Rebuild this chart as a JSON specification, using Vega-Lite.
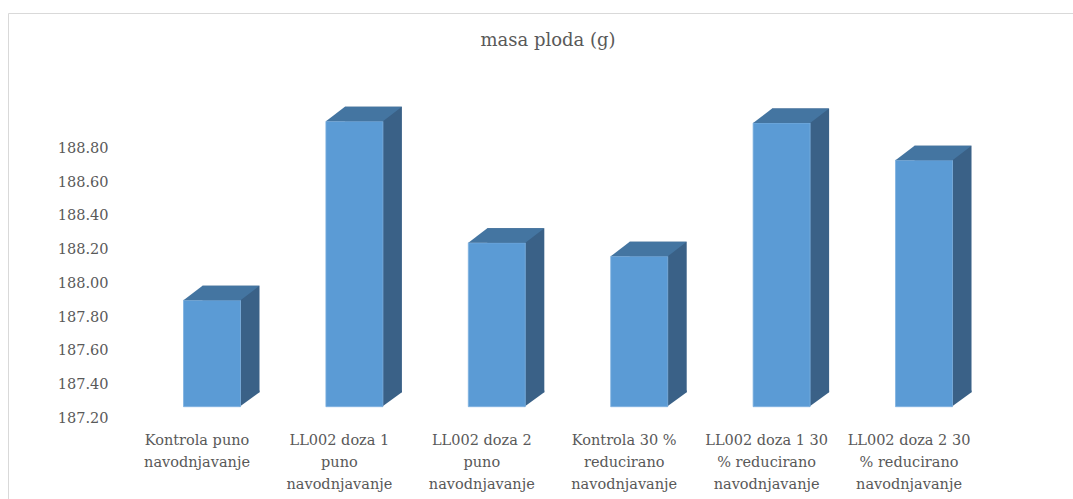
{
  "$schema": "https://vega.github.io/schema/vega-lite/v6.json",
  "width": 1080,
  "height": 500,
  "autosize": {"type": "none"},
  "padding": {"left": 8, "top": 13, "right": -15, "bottom": -14},
  "background": "white",
  "config": {"view": {"stroke": "#d9d9d9", "strokeWidth": 1}},
  "title": {
    "text": "masa ploda (g)",
    "font": "DejaVu Serif",
    "fontSize": 18,
    "fontWeight": "normal",
    "color": "#595959",
    "anchor": "middle",
    "frame": "group",
    "baseline": "alphabetic",
    "offset": -51
  },
  "data": {
    "values": [
      {"tretman": "Kontrola puno\nnavodnjavanje", "masa": 187.90},
      {"tretman": "LL002 doza 1\npuno\nnavodnjavanje", "masa": 188.96},
      {"tretman": "LL002 doza 2\npuno\nnavodnjavanje", "masa": 188.24},
      {"tretman": "Kontrola 30 %\nreducirano\nnavodnjavanje", "masa": 188.16},
      {"tretman": "LL002 doza 1 30\n% reducirano\nnavodnjavanje", "masa": 188.95},
      {"tretman": "LL002 doza 2 30\n% reducirano\nnavodnjavanje", "masa": 188.73}
    ]
  },
  "encoding": {
    "x": {
      "field": "tretman",
      "type": "nominal",
      "sort": null,
      "title": null,
      "scale": {"paddingInner": 0, "paddingOuter": 0.7921, "align": 0.5887},
      "axis": {
        "domain": false,
        "ticks": false,
        "tickSize": 0,
        "labelPadding": -80,
        "labelOffset": -15,
        "labelAngle": 0,
        "labelFont": "DejaVu Serif",
        "labelFontSize": 14.5,
        "labelColor": "#595959",
        "labelLineHeight": 22,
        "labelAlign": "center",
        "labelBaseline": "top",
        "labelOverlap": false,
        "labelBound": false,
        "labelLimit": 300,
        "labelExpr": "split(datum.label, '\\n')"
      }
    }
  },
  "layer": [
    {
      "mark": {"type": "bar", "color": "#3a6187", "width": 57, "xOffset": 19, "yOffset": -14.5, "y2Offset": -14.5, "opacity": 1},
      "encoding": {
        "y": {
          "field": "masa",
          "type": "quantitative",
          "title": null,
          "scale": {"domain": [186.639, 189.602], "nice": false, "zero": false},
          "axis": {
            "values": [187.2, 187.4, 187.6, 187.8, 188.0, 188.2, 188.4, 188.6, 188.8],
            "format": ".2f",
            "domain": false,
            "ticks": false,
            "tickSize": 0,
            "grid": false,
            "labelPadding": -100,
            "labelFont": "DejaVu Serif",
            "labelFontSize": 14.5,
            "labelColor": "#595959",
            "labelAlign": "right",
            "labelBaseline": "middle",
            "labelBound": false,
            "labelOverlap": false
          }
        },
        "y2": {"datum": 187.269}
      }
    },
    {
      "mark": {"type": "point", "filled": true, "opacity": 1, "color": "#3a6187", "size": 9025, "shape": "M0.58,-0.34L1,-0.34L1,-0.3053L0.58,0Z"},
      "encoding": {
        "y": {"datum": 187.269, "type": "quantitative", "title": null}
      }
    },
    {
      "mark": {"type": "bar", "color": "#5b9bd5", "width": 57, "opacity": 1, "stroke": "#7fb1df", "strokeWidth": 0.8},
      "encoding": {
        "y": {"field": "masa", "type": "quantitative", "title": null},
        "y2": {"datum": 187.269}
      }
    },
    {
      "mark": {"type": "point", "filled": true, "opacity": 1, "color": "#4475a1", "size": 9025, "shape": "M-0.6,0L0.6,0L1,-0.3053L-0.2,-0.3053Z"},
      "encoding": {
        "y": {"field": "masa", "type": "quantitative", "title": null}
      }
    }
  ]
}
